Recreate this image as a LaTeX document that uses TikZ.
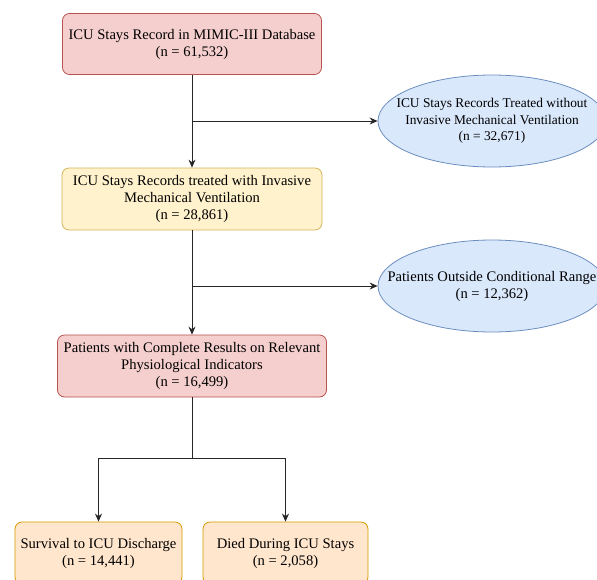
\documentclass[tikz,border=0pt]{standalone}
\usepackage{fontspec}
\setmainfont{Liberation Serif}
\usetikzlibrary{shapes.geometric,arrows.meta}
\definecolor{redfill}{HTML}{F4CFCD}
\definecolor{reddraw}{HTML}{B85450}
\definecolor{yelfill}{HTML}{FFF2CC}
\definecolor{yeldraw}{HTML}{D6B656}
\definecolor{bluefill}{HTML}{DAE8FC}
\definecolor{bluedraw}{HTML}{6C8EBF}
\definecolor{orgfill}{HTML}{FFE6CC}
\definecolor{orgdraw}{HTML}{D79B00}
\tikzset{
  every node/.style={font=\fontsize{14.6}{17}\selectfont, align=center, inner sep=0pt},
  smalltext/.style={font=\fontsize{13.4}{16.5}\selectfont},
  boxbase/.style={rectangle, rounded corners=7pt, line width=0.8pt},
  redbox/.style={boxbase, fill=redfill, draw=reddraw},
  yelbox/.style={boxbase, fill=yelfill, draw=yeldraw},
  orgbox/.style={boxbase, fill=orgfill, draw=orgdraw},
  bluell/.style={ellipse, fill=bluefill, draw=bluedraw, line width=0.8pt, minimum width=228pt, minimum height=92pt},
  conn/.style={line width=0.8pt, draw=black!85},
  arr/.style={conn, -{Stealth[length=8pt,width=7pt]}}
}
\begin{document}
\begin{tikzpicture}[x=1pt,y=-1pt]
\useasboundingbox (0,0) rectangle (597,579);
\clip (0,0) rectangle (597,579);
\fill[white] (0,0) rectangle (597,579);
\node[redbox, minimum width=259pt, minimum height=61pt] (b1) at (192,44) {ICU Stays Record in MIMIC-III Database\\(n = 61,532)};
\node[yelbox, minimum width=260pt, minimum height=62pt] (b2) at (192,199) {ICU Stays Records treated with Invasive\\Mechanical Ventilation\\(n = 28,861)};
\node[redbox, minimum width=269pt, minimum height=62pt] (b3) at (192,366) {Patients with Complete Results on Relevant\\Physiological Indicators\\(n = 16,499)};
\node[bluell] (e1) at (492,121) {};
\node[smalltext] (t1) at (e1.center) {ICU Stays Records Treated without\\Invasive Mechanical Ventilation\\(n = 32,671)};
\node[bluell] (e2) at (492,286) {};
\node (t2) at (e2.center) {Patients Outside Conditional Range\\(n = 12,362)};
\node[orgbox, minimum width=167pt, minimum height=62pt] (b4) at (98.5,553) {Survival to ICU Discharge\\(n = 14,441)};
\node[orgbox, minimum width=165pt, minimum height=62pt] (b5) at (285.5,553) {Died During ICU Stays\\(n = 2,058)};
\coordinate (split) at (192,458);
\draw[arr] (b1.south) -- (b2.north);
\draw[arr] (b1.south |- e1.west) -- (e1.west);
\draw[arr] (b2.south) -- (b3.north);
\draw[arr] (b2.south |- e2.west) -- (e2.west);
\draw[conn] (b3.south) -- (split);
\draw[arr] (split) -| (b4.north);
\draw[arr] (split) -| (b5.north);
\end{tikzpicture}
\end{document}
